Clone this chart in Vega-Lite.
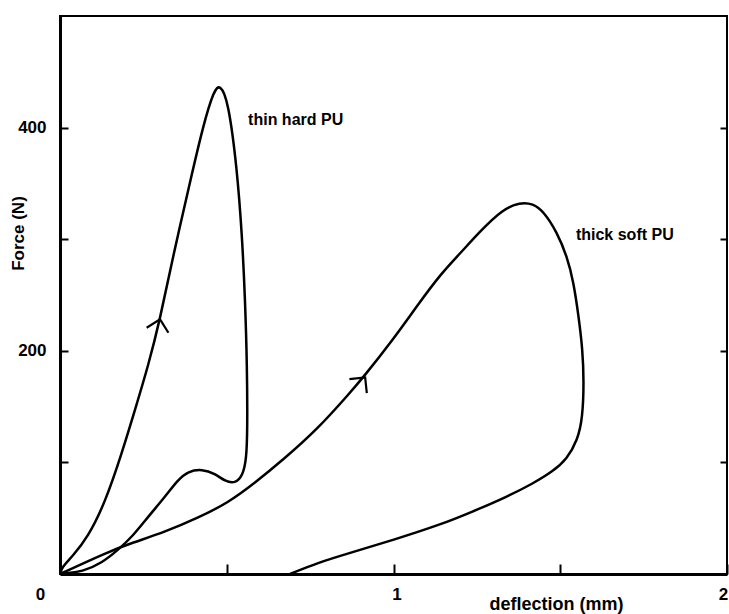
{
  "$schema": "https://vega.github.io/schema/vega-lite/v6.json",
  "width": 667,
  "height": 558,
  "autosize": {"type": "none"},
  "padding": {"left": 60, "top": 16, "right": 2, "bottom": 40},
  "background": "white",
  "config": {
    "view": {"stroke": "black", "strokeWidth": 2},
    "font": "Liberation Sans",
    "axis": {"grid": false, "labelFont": "Liberation Sans", "titleFont": "Liberation Sans", "labelColor": "black", "titleColor": "black", "tickColor": "black", "domainColor": "black"}
  },
  "datasets": {
    "curves": [
      {"sample": "thin hard PU", "i": 0, "deflection": 0.0, "force": 0.0},
      {"sample": "thin hard PU", "i": 1, "deflection": 0.006, "force": 6.3},
      {"sample": "thin hard PU", "i": 2, "deflection": 0.036, "force": 15.3},
      {"sample": "thin hard PU", "i": 3, "deflection": 0.084, "force": 33.2},
      {"sample": "thin hard PU", "i": 4, "deflection": 0.135, "force": 63.8},
      {"sample": "thin hard PU", "i": 5, "deflection": 0.186, "force": 108.7},
      {"sample": "thin hard PU", "i": 6, "deflection": 0.225, "force": 147.3},
      {"sample": "thin hard PU", "i": 7, "deflection": 0.264, "force": 186.0},
      {"sample": "thin hard PU", "i": 8, "deflection": 0.3, "force": 228.2},
      {"sample": "thin hard PU", "i": 9, "deflection": 0.339, "force": 284.8},
      {"sample": "thin hard PU", "i": 10, "deflection": 0.39, "force": 351.3},
      {"sample": "thin hard PU", "i": 11, "deflection": 0.429, "force": 401.6},
      {"sample": "thin hard PU", "i": 12, "deflection": 0.462, "force": 434.0},
      {"sample": "thin hard PU", "i": 13, "deflection": 0.48, "force": 438.5},
      {"sample": "thin hard PU", "i": 14, "deflection": 0.504, "force": 425.0},
      {"sample": "thin hard PU", "i": 15, "deflection": 0.531, "force": 363.0},
      {"sample": "thin hard PU", "i": 16, "deflection": 0.546, "force": 302.8},
      {"sample": "thin hard PU", "i": 17, "deflection": 0.555, "force": 246.2},
      {"sample": "thin hard PU", "i": 18, "deflection": 0.561, "force": 186.0},
      {"sample": "thin hard PU", "i": 19, "deflection": 0.562, "force": 129.4},
      {"sample": "thin hard PU", "i": 20, "deflection": 0.559, "force": 103.0},
      {"sample": "thin hard PU", "i": 21, "deflection": 0.548, "force": 88.0},
      {"sample": "thin hard PU", "i": 22, "deflection": 0.525, "force": 81.0},
      {"sample": "thin hard PU", "i": 23, "deflection": 0.495, "force": 83.0},
      {"sample": "thin hard PU", "i": 24, "deflection": 0.465, "force": 90.0},
      {"sample": "thin hard PU", "i": 25, "deflection": 0.426, "force": 94.0},
      {"sample": "thin hard PU", "i": 26, "deflection": 0.384, "force": 92.0},
      {"sample": "thin hard PU", "i": 27, "deflection": 0.354, "force": 84.5},
      {"sample": "thin hard PU", "i": 28, "deflection": 0.315, "force": 69.2},
      {"sample": "thin hard PU", "i": 29, "deflection": 0.264, "force": 51.2},
      {"sample": "thin hard PU", "i": 30, "deflection": 0.216, "force": 33.2},
      {"sample": "thin hard PU", "i": 31, "deflection": 0.174, "force": 21.6},
      {"sample": "thin hard PU", "i": 32, "deflection": 0.126, "force": 9.9},
      {"sample": "thin hard PU", "i": 33, "deflection": 0.066, "force": 1.8},
      {"sample": "thin hard PU", "i": 34, "deflection": 0.015, "force": 0.9},
      {"sample": "thin hard PU", "i": 35, "deflection": 0.0, "force": 0.0},
      {"sample": "thick soft PU", "i": 0, "deflection": 0.0, "force": 0.0},
      {"sample": "thick soft PU", "i": 1, "deflection": 0.144, "force": 19.8},
      {"sample": "thick soft PU", "i": 2, "deflection": 0.216, "force": 27.9},
      {"sample": "thick soft PU", "i": 3, "deflection": 0.315, "force": 37.7},
      {"sample": "thick soft PU", "i": 4, "deflection": 0.414, "force": 50.3},
      {"sample": "thick soft PU", "i": 5, "deflection": 0.504, "force": 63.8},
      {"sample": "thick soft PU", "i": 6, "deflection": 0.585, "force": 81.8},
      {"sample": "thick soft PU", "i": 7, "deflection": 0.669, "force": 102.4},
      {"sample": "thick soft PU", "i": 8, "deflection": 0.771, "force": 129.4},
      {"sample": "thick soft PU", "i": 9, "deflection": 0.87, "force": 162.6},
      {"sample": "thick soft PU", "i": 10, "deflection": 0.909, "force": 176.1},
      {"sample": "thick soft PU", "i": 11, "deflection": 0.999, "force": 210.2},
      {"sample": "thick soft PU", "i": 12, "deflection": 1.07, "force": 240.0},
      {"sample": "thick soft PU", "i": 13, "deflection": 1.139, "force": 268.0},
      {"sample": "thick soft PU", "i": 14, "deflection": 1.199, "force": 287.0},
      {"sample": "thick soft PU", "i": 15, "deflection": 1.259, "force": 307.0},
      {"sample": "thick soft PU", "i": 16, "deflection": 1.328, "force": 327.0},
      {"sample": "thick soft PU", "i": 17, "deflection": 1.379, "force": 333.0},
      {"sample": "thick soft PU", "i": 18, "deflection": 1.418, "force": 332.0},
      {"sample": "thick soft PU", "i": 19, "deflection": 1.45, "force": 325.0},
      {"sample": "thick soft PU", "i": 20, "deflection": 1.49, "force": 306.4},
      {"sample": "thick soft PU", "i": 21, "deflection": 1.52, "force": 284.8},
      {"sample": "thick soft PU", "i": 22, "deflection": 1.54, "force": 261.5},
      {"sample": "thick soft PU", "i": 23, "deflection": 1.555, "force": 230.9},
      {"sample": "thick soft PU", "i": 24, "deflection": 1.567, "force": 201.3},
      {"sample": "thick soft PU", "i": 25, "deflection": 1.571, "force": 171.6},
      {"sample": "thick soft PU", "i": 26, "deflection": 1.567, "force": 140.0},
      {"sample": "thick soft PU", "i": 27, "deflection": 1.552, "force": 120.0},
      {"sample": "thick soft PU", "i": 28, "deflection": 1.52, "force": 103.0},
      {"sample": "thick soft PU", "i": 29, "deflection": 1.478, "force": 92.0},
      {"sample": "thick soft PU", "i": 30, "deflection": 1.418, "force": 81.0},
      {"sample": "thick soft PU", "i": 31, "deflection": 1.34, "force": 69.2},
      {"sample": "thick soft PU", "i": 32, "deflection": 1.238, "force": 56.0},
      {"sample": "thick soft PU", "i": 33, "deflection": 1.139, "force": 44.0},
      {"sample": "thick soft PU", "i": 34, "deflection": 0.999, "force": 30.5},
      {"sample": "thick soft PU", "i": 35, "deflection": 0.87, "force": 18.9},
      {"sample": "thick soft PU", "i": 36, "deflection": 0.771, "force": 9.9},
      {"sample": "thick soft PU", "i": 37, "deflection": 0.69, "force": 0.0}
    ],
    "arrows": [
      {"sample": "thin hard PU", "deflection": 0.3, "force": 228.2},
      {"sample": "thick soft PU", "deflection": 0.915, "force": 176.1}
    ],
    "labels": [
      {"text": "thin hard  PU", "deflection": 0.564, "force": 407},
      {"text": "thick soft  PU", "deflection": 1.547, "force": 304}
    ]
  },
  "resolve": {"axis": {"y": "independent"}},
  "layer": [
    {
      "data": {"name": "curves"},
      "mark": {"type": "line", "color": "black", "strokeWidth": 2.5, "interpolate": "basis", "clip": true},
      "encoding": {
        "x": {
          "field": "deflection", "type": "quantitative",
          "scale": {"domain": [0, 2], "nice": false, "zero": false},
          "axis": {
            "values": [0, 0.5, 1, 1.5, 2],
            "labelExpr": "datum.value == 0 || datum.value == 1 || datum.value == 2 ? format(datum.value, 'd') : ''",
            "labelOffset": {"condition": [{"test": "datum.value == 0", "value": -20}, {"test": "datum.value == 2", "value": -4}], "value": 3},
            "labelFlush": false,
            "tickSize": -10, "tickWidth": 2,
            "labelPadding": 22,
            "labelFontSize": 17, "labelFontWeight": "bold", "labelBaseline": "top",
            "domainWidth": 3,
            "title": "deflection (mm)",
            "titleFontSize": 18, "titleFontWeight": "bold",
            "titleX": 496, "titleY": 30, "titleBaseline": "middle", "titleAlign": "center"
          }
        },
        "y": {
          "field": "force", "type": "quantitative",
          "scale": {"domain": [0, 500], "nice": false},
          "axis": {
            "orient": "left",
            "values": [100, 200, 300, 400],
            "labelExpr": "datum.value == 200 || datum.value == 400 ? datum.label : ''",
            "tickSize": -8, "tickWidth": 2,
            "labelPadding": 22,
            "labelFontSize": 17, "labelFontWeight": "bold",
            "domainWidth": 3,
            "title": "Force (N)",
            "titleFontSize": 17, "titleFontWeight": "bold",
            "titleAngle": -90, "titleX": -42, "titleY": 217, "titleBaseline": "middle", "titleAlign": "center"
          }
        },
        "detail": {"field": "sample"},
        "order": {"field": "i", "type": "quantitative"}
      }
    },
    {
      "data": {"name": "arrows"},
      "mark": {"type": "point", "shape": "M-1,1L0,0L1,1", "filled": false, "stroke": "black", "strokeWidth": 2.2, "size": 500, "opacity": 1},
      "encoding": {
        "x": {"field": "deflection", "type": "quantitative"},
        "y": {
          "field": "force", "type": "quantitative",
          "axis": {"orient": "right", "values": [100, 200, 300, 400], "labels": false, "title": null, "tickSize": -7, "tickWidth": 2, "domain": false}
        },
        "angle": {"condition": {"test": "datum.sample == 'thin hard PU'", "value": 13}, "value": 39}
      }
    },
    {
      "data": {"name": "labels"},
      "mark": {"type": "text", "align": "left", "baseline": "middle", "fontSize": 16, "fontWeight": "bold", "font": "Liberation Sans", "color": "black"},
      "encoding": {
        "x": {"field": "deflection", "type": "quantitative"},
        "y": {"field": "force", "type": "quantitative", "axis": null},
        "text": {"field": "text"}
      }
    }
  ]
}
